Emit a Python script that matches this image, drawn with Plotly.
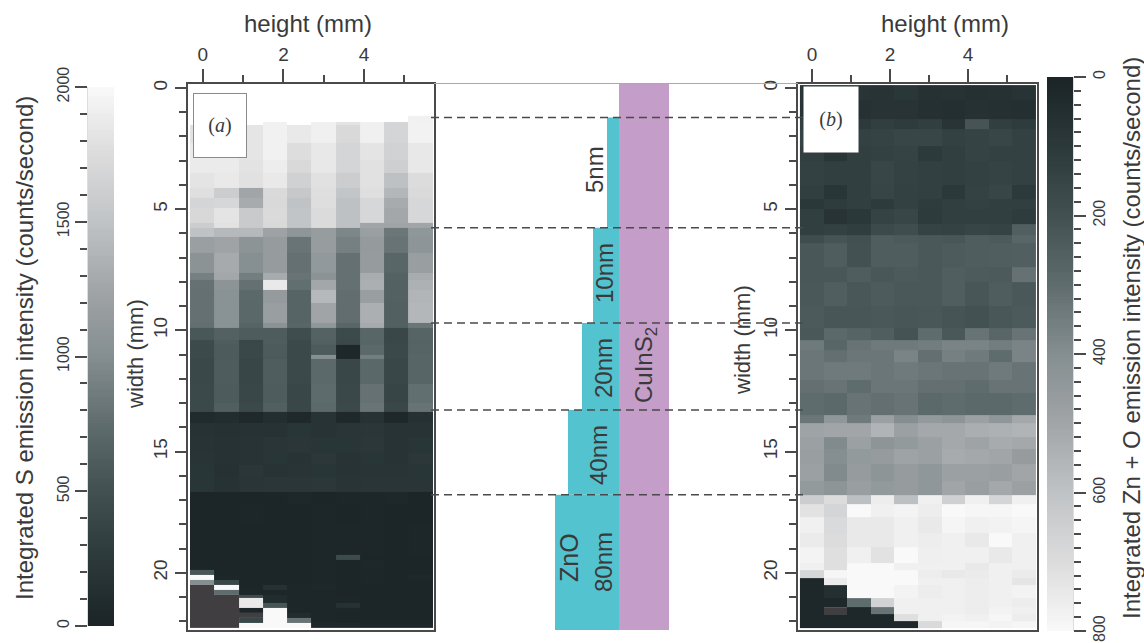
import numpy as np
import plotly.graph_objects as go

W, H = 1144, 643

# ---------- data ----------
OFF = -1  # cell outside the colour range, drawn dark grey
N = None

s_edges = [1.15,1.39,1.53,2.28,2.97,3.52,4.14,4.55,4.96,5.57,5.78,6.13,6.81,7.64,7.92,8.33,8.88,9.7,9.91,
           10.39,10.6,11.0,11.19,12.2,13.0,13.35,13.83,14.38,15.07,15.55,16.03,16.65,17.2,18.0,19.26,19.46,
           19.9,20.08,20.3,20.5,20.7,20.9,21.04,21.24,21.44,21.65,21.86,22.06,22.27]
s_rows = [
 [N,N,N,N,N,N,N,N,N,1930],
 [N,N,N,1930,N,1920,1820,1920,1690,1940],
 [1800,1800,1830,1930,1860,1920,1720,1920,1680,1940],
 [1880,1880,1830,1930,1760,1850,1680,1820,1650,1850],
 [1880,1880,1810,1900,1720,1850,1680,1790,1620,1850],
 [1820,1860,1790,1860,1640,1790,1600,1790,1480,1750],
 [1780,1600,1250,1730,1550,1780,1530,1780,1400,1730],
 [1680,1700,1300,1720,1500,1770,1480,1700,1300,1700],
 [1710,1820,1570,1730,1520,1740,1480,1700,1270,1700],
 [1600,1800,1570,1720,1520,1740,1480,1250,1240,1250],
 [1500,1420,1420,1220,1090,1160,950,1190,820,1100],
 [1190,1230,1060,1150,810,1160,900,1140,800,1080],
 [1050,1290,1010,1150,780,1120,780,1150,700,1180],
 [900,1270,880,1300,800,1050,780,1310,660,1310],
 [790,1060,780,1860,770,1270,780,1330,650,1350],
 [780,1040,720,1140,680,1420,760,1180,650,1380],
 [780,1040,710,1180,680,1240,760,1330,640,1400],
 [770,1040,680,1050,700,1100,700,1300,640,820],
 [560,650,610,610,470,660,440,700,400,680],
 [450,620,400,620,430,640,420,690,410,670],
 [430,600,410,600,420,600,50,720,420,680],
 [430,600,410,590,420,1010,50,880,420,700],
 [410,610,390,620,420,720,400,710,400,690],
 [420,600,400,610,400,740,410,790,380,770],
 [420,630,420,630,400,720,420,810,400,800],
 [80,110,60,120,60,180,60,170,50,160],
 [170,150,170,170,210,180,200,220,180,180],
 [180,170,180,200,220,210,210,230,180,210],
 [190,170,180,210,180,230,180,210,180,230],
 [210,160,220,180,190,210,180,190,190,210],
 [210,170,200,220,220,230,190,200,200,200],
 [20,20,20,20,40,20,30,25,40,20],
 [20,20,25,20,20,25,20,30,20,20],
 [20,20,20,20,20,30,25,30,20,25],
 [20,20,20,20,20,25,450,20,20,20],
 [20,20,20,20,20,25,20,40,20,20],
 [550,20,20,20,20,30,20,30,20,20],
 [2000,25,20,20,20,30,20,30,20,40],
 [1000,400,20,20,20,25,20,25,20,20],
 [OFF,2000,20,150,30,40,20,20,20,20],
 [OFF,750,30,30,30,30,20,20,20,20],
 [OFF,OFF,450,90,30,30,20,20,20,20],
 [OFF,OFF,1860,90,25,30,25,20,20,20],
 [OFF,OFF,1860,550,25,25,150,20,20,20],
 [OFF,OFF,20,2000,30,25,25,20,20,20],
 [OFF,OFF,OFF,2000,100,30,20,20,20,20],
 [OFF,OFF,400,2000,800,25,20,20,20,20],
 [OFF,OFF,2000,2000,2000,60,60,25,25,25],
]

zn_edges = [-0.12,0.5,1.3,1.7,2.4,3.0,4.0,4.6,5.0,5.6,6.05,6.4,7.4,8.0,9.0,9.9,10.4,10.8,11.3,12.05,12.6,13.5,
            13.83,14.4,14.9,15.5,16.2,16.8,17.15,17.7,18.35,18.95,19.6,19.9,20.2,20.5,21.03,21.4,21.7,21.98,22.27]
zn_rows = [
 [75,75,75,70,90,60,65,55,60,70],
 [70,70,60,70,70,55,50,60,55,50],
 [125,125,105,125,115,125,75,215,125,115],
 [145,145,135,145,155,155,135,145,155,135],
 [125,85,125,135,145,105,125,145,135,135],
 [135,125,125,155,140,130,125,135,145,135],
 [125,85,125,150,135,130,100,140,155,105],
 [95,115,125,110,135,115,125,135,125,125],
 [125,70,95,145,155,110,125,125,125,115],
 [125,135,120,175,185,145,140,150,145,255],
 [185,215,200,245,235,230,220,245,235,280],
 [225,245,205,245,245,230,240,245,250,255],
 [225,225,245,225,235,230,250,240,235,315],
 [230,250,225,240,230,230,250,220,245,230],
 [235,220,220,230,220,225,215,205,225,235],
 [230,290,270,250,210,300,230,320,280,320],
 [340,280,320,340,340,350,370,370,350,370],
 [330,310,330,330,370,310,360,340,300,370],
 [330,340,340,330,340,330,320,320,340,320],
 [310,320,300,330,330,310,310,300,320,320],
 [300,290,320,310,320,290,300,290,290,300],
 [330,440,340,480,400,450,430,480,440,510],
 [490,500,500,550,480,510,510,530,540,550],
 [480,390,480,430,450,480,510,490,520,510],
 [470,400,450,460,490,480,520,510,500,460],
 [480,390,460,430,460,440,480,480,470,500],
 [450,430,470,450,460,440,500,470,510,480],
 [640,700,590,760,590,770,650,770,670,770],
 [720,670,800,770,780,760,800,790,790,800],
 [770,690,745,745,770,745,785,770,775,785],
 [750,700,745,745,770,760,770,745,800,770],
 [780,710,770,720,800,765,770,770,745,770],
 [770,710,800,800,770,770,770,745,770,770],
 [680,790,800,800,800,760,745,750,770,750],
 [20,750,800,800,800,770,770,760,770,730],
 [20,50,800,800,780,760,770,760,770,780],
 [20,20,300,660,770,770,770,760,770,760],
 [20,OFF,20,320,770,770,770,760,780,770],
 [20,20,20,20,710,770,780,770,790,760],
 [20,20,20,20,20,690,790,790,780,790],
]

layer_top = [1.22, 5.77, 9.69, 13.28, 16.78]
layer_bottom = [5.77, 9.69, 13.28, 16.78, 22.36]
layer_extent = [12, 26, 37, 51, 64]  # schematic, not to scale
absorber_extent = 50
cbar_s_levels = list(range(0, 2001, 10))
cbar_zn_levels = list(range(0, 801, 4))

# ---------- style ----------
GREY = [[0, "#1b2426"], [.125, "#2c393b"], [.25, "#425051"], [.375, "#5f6c6e"], [.5, "#858e90"],
        [.625, "#a1a5a8"], [.75, "#c0c3c5"], [.875, "#dcdcdd"], [1, "#f9f9f9"]]
OFFC = [[0, "#403e41"], [1, "#403e41"]]
FONT = "Liberation Sans"
INK = "#3a3a3a"
FRAME = "#4a4a4a"


def dom_x(a, b):
    return [a / W, b / W]


def dom_y(top, bottom):
    return [1 - bottom / H, 1 - top / H]


def heat(edges, rows, x0, dx, zmax, xa, ya):
    z = np.array(rows, dtype=float)
    xe = [x0 + dx * i for i in range(11)]
    out = np.where(z == OFF, 1.0, np.nan)
    z = np.where(z == OFF, np.nan, z)
    return [
        go.Heatmap(z=z, x=xe, y=edges, zmin=0, zmax=zmax, colorscale=GREY, showscale=False, xaxis=xa, yaxis=ya,
                   hoverongaps=False),
        go.Heatmap(z=out, x=xe, y=edges, zmin=0, zmax=1, colorscale=OFFC, showscale=False, xaxis=xa, yaxis=ya,
                   hoverongaps=False),
    ]


fig = go.Figure()
for t in heat(s_edges, s_rows, -0.32, 0.6025, 2000, "x", "y"):
    fig.add_trace(t)
for t in heat(zn_edges, zn_rows, -0.31, 0.605, 800, "x2", "y2"):
    fig.add_trace(t)

# centre schematic
fig.add_trace(go.Bar(orientation="h", x=[absorber_extent], base=[0], y=[11], width=[23],
                     marker=dict(color="#c59dc9", line_width=0), xaxis="x3", yaxis="y3"))
fig.add_trace(go.Bar(orientation="h", x=layer_extent, base=[-e for e in layer_extent],
                     y=[(a + b) / 2 for a, b in zip(layer_top, layer_bottom)],
                     width=[b - a for a, b in zip(layer_top, layer_bottom)],
                     marker=dict(color="#54c3d0", line_width=0), xaxis="x3", yaxis="y3"))

# colour bars
fig.add_trace(go.Heatmap(z=[[v] for v in cbar_s_levels], x=[0, 1], y=cbar_s_levels, zmin=0, zmax=2000,
                         colorscale=GREY, showscale=False, xaxis="x4", yaxis="y4"))
fig.add_trace(go.Heatmap(z=[[v] for v in cbar_zn_levels], x=[0, 1], y=cbar_zn_levels, zmin=0, zmax=800,
                         colorscale=GREY, showscale=False, xaxis="x5", yaxis="y5"))

tickf = dict(family=FONT, size=19, color=INK)
smallf = dict(family=FONT, size=16, color=INK)


def height_axis(dom, rng, anchor):
    return dict(domain=dom, range=rng, side="top", anchor=anchor, tick0=0, dtick=2, ticks="outside", ticklen=13,
                tickwidth=2, tickcolor=FRAME, tickfont=tickf, showgrid=False, zeroline=False, showline=True,
                linecolor=FRAME, linewidth=2, mirror=True, automargin=False,
                minor=dict(dtick=1, tick0=0, ticks="outside", ticklen=7, tickwidth=2, tickcolor=FRAME, showgrid=False))


def width_axis(dom, anchor):
    return dict(domain=dom, range=[22.36, -0.165], anchor=anchor, tick0=0, dtick=5, ticks="outside", ticklen=11,
                tickwidth=2, tickcolor=FRAME, tickangle=-90, tickfont=tickf, showgrid=False, zeroline=False,
                showline=True, linecolor=FRAME, linewidth=2, mirror=True, automargin=False,
                minor=dict(dtick=1, tick0=0, ticks="outside", ticklen=7, tickwidth=2, tickcolor=FRAME, showgrid=False))


def cbar_y(dom, rng, side, major, minor):
    return dict(domain=dom, range=rng, side=side, anchor="x4" if side == "left" else "x5", tick0=0, dtick=major,
                ticks="outside", ticklen=12, tickwidth=2, tickcolor=FRAME, tickangle=-90, tickfont=smallf,
                showgrid=False, zeroline=False, showline=True, linecolor="#dddddd", linewidth=1, automargin=False,
                minor=dict(dtick=minor, tick0=0, ticks="outside", ticklen=7, tickwidth=2, tickcolor=FRAME,
                           showgrid=False))


hidden = dict(showticklabels=False, ticks="", showgrid=False, zeroline=False, showline=False, automargin=False)

fig.update_layout(
    width=W, height=H, autosize=False, margin=dict(l=0, r=0, t=0, b=0),
    paper_bgcolor="white", plot_bgcolor="white", showlegend=False, barmode="overlay",
    xaxis=height_axis(dom_x(188, 434), [-0.37, 5.74], "y"),
    yaxis=width_axis(dom_y(84, 630), "x"),
    xaxis2=height_axis(dom_x(798, 1037), [-0.36, 5.77], "y2"),
    yaxis2=width_axis(dom_y(84, 630), "x2"),
    xaxis3=dict(domain=dom_x(434, 798), range=[-185, 179], side="top", anchor="y3", showline=True,
                linecolor="#aaaaaa", linewidth=1, showticklabels=False, ticks="", showgrid=False, zeroline=False,
                automargin=False),
    yaxis3=dict(domain=dom_y(84, 630), range=[22.36, -0.165], anchor="x3", **hidden),
    xaxis4=dict(domain=dom_x(88, 114), range=[0, 1], anchor="y4", **hidden),
    yaxis4=cbar_y(dom_y(87, 626), [0, 2000], "left", 500, 100),
    xaxis5=dict(domain=dom_x(1047, 1073), range=[0, 1], anchor="y5", **hidden),
    yaxis5=cbar_y(dom_y(77, 631), [800, 0], "right", 200, 20),
)

# dashed guide lines: horizontal position in page terms, vertical on the width axis
for e in layer_top:
    fig.add_shape(type="line", xref="paper", yref="y3", x0=431 / W, x1=805 / W, y0=e, y1=e, layer="above",
                  line=dict(color="#4a4a4a", width=1.5, dash="8px,5px"))


def note(text, px, py, size, angle=-90, **kw):
    fig.add_annotation(text=text, xref="paper", yref="paper", x=px / W, y=1 - py / H, xanchor="center",
                       yanchor="middle", showarrow=False, textangle=angle,
                       font=dict(family=kw.pop("family", FONT), size=size, color=INK), **kw)


note("height (mm)", 308, 23, 24, angle=0)
note("height (mm)", 945, 23, 24, angle=0)
note("width (mm)", 135, 354, 22)
note("width (mm)", 743, 340, 22)
note("Integrated S emission intensity (counts/second)", 24, 348, 24)
note("Integrated Zn + O emission intensity (counts/second)", 1131, 338, 24)
note("5nm", 595, 170, 24)
note("10nm", 605, 273, 24)
note("20nm", 603, 368, 24)
note("40nm", 598, 455, 24)
note("ZnO", 569, 558, 25)
note("80nm", 603, 562, 24)
note("CuInS<sub>2</sub>", 646, 365, 24)
note("(<i>a</i>)", 220, 125.5, 20, angle=0, family="Liberation Serif", width=52, height=63, bgcolor="white",
     bordercolor="#8a8a8a", borderwidth=1, borderpad=0)
note("(<i>b</i>)", 831, 119.5, 20, angle=0, family="Liberation Serif", width=54, height=65, bgcolor="white",
     borderpad=0)

fig.write_html("out.html", config=dict(displayModeBar=False),
               post_script="document.body.style.margin='0';document.documentElement.style.overflow='hidden';")
